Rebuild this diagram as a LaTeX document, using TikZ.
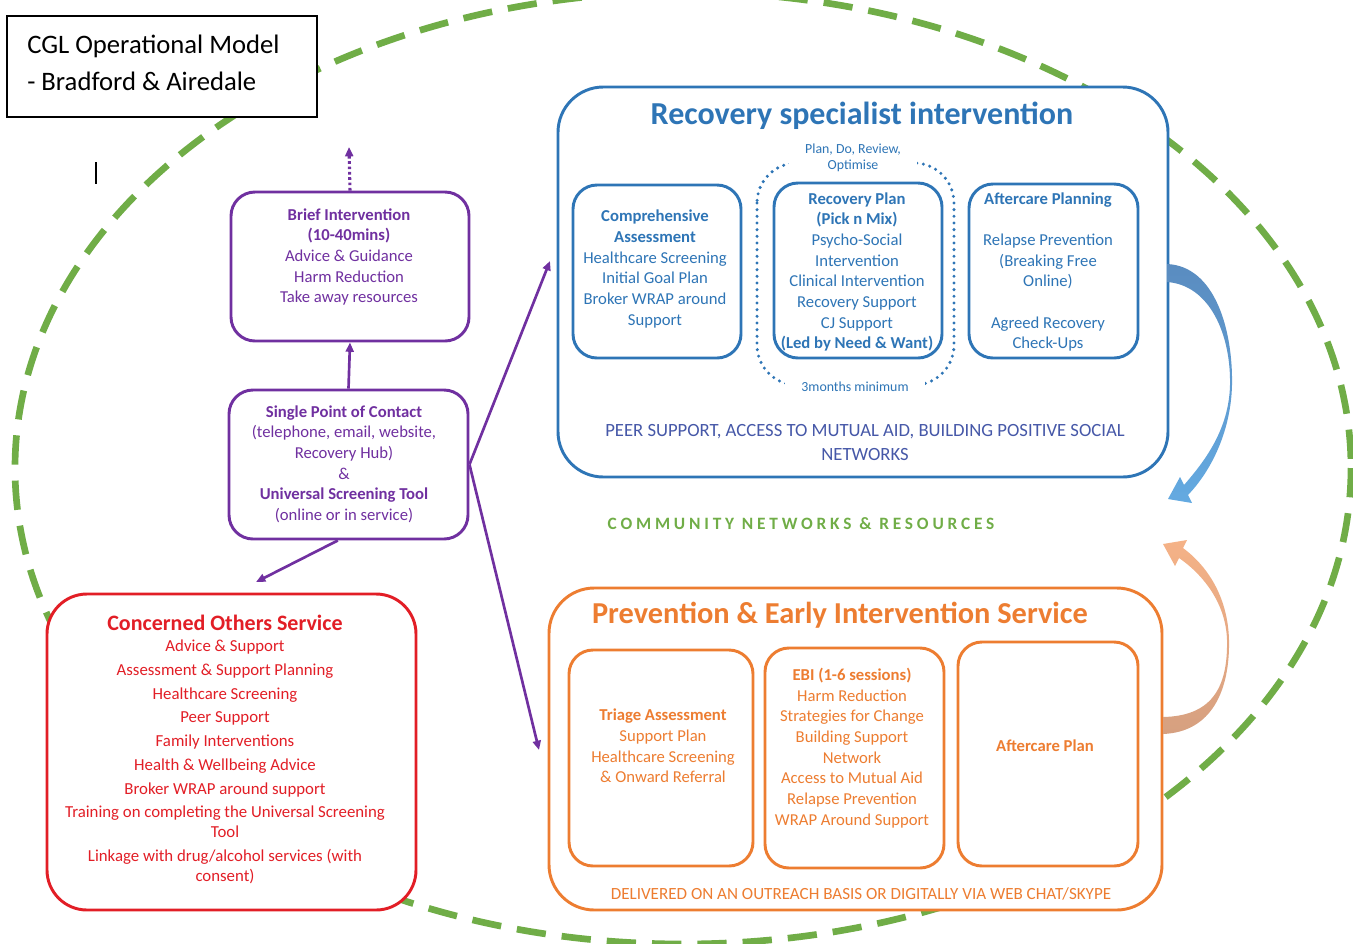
\documentclass[tikz,border=0pt]{standalone}
\usepackage{fontspec}
\setmainfont{Carlito}
\usetikzlibrary{arrows.meta,fit}

\definecolor{cglgreen}{RGB}{112,173,71}
\definecolor{cglpurple}{RGB}{112,48,160}
\definecolor{cglred}{RGB}{226,30,38}
\definecolor{cglblue}{RGB}{46,117,182}
\definecolor{cglpeer}{RGB}{70,88,168}
\definecolor{cglorange}{RGB}{237,125,49}

\tikzset{
  box/.style={draw, line width=2.2pt, rounded corners=18pt, fill=white, inner sep=0pt},
  txt/.style={align=center, inner sep=0.75pt, font=\fontsize{12.5}{15.5}\selectfont},
  parrow/.style={draw=cglpurple, line width=2pt, -{Triangle[length=7pt,width=6pt]}},
}

\begin{document}
\begin{tikzpicture}[x=0.75pt,y=0.75pt,yscale=-1,xscale=1]
\useasboundingbox (0,0) rectangle (1353,943);

% community circle
\draw [cglgreen, line width=5pt, dash pattern=on 22pt off 12pt] (683,468) ellipse [x radius=668, y radius=476];

% title
\node [draw=black, line width=1.1pt, fill=white, inner sep=0pt, fit={(7,16) (317,117)}] (title) {};
\node [txt, anchor=west, align=left, font=\fontsize{20}{27.75}\selectfont] (titletxt) at (26,63) {CGL Operational Model\\- Bradford \& Airedale};
\draw [line width=0.8pt] (96,162) -- (96,184);

% brief intervention
\node [box, draw=cglpurple, fit={(231,192) (469,341)}] (brief) {};
\node [txt, text=cglpurple] (brieftxt) at (349,257) {\textbf{Brief Intervention}\\\textbf{(10-40mins)}\\Advice \& Guidance\\Harm Reduction\\Take away resources};
\coordinate (briefup) at (349,147);

% single point of contact
\node [box, draw=cglpurple, fit={(229,390) (468,539)}] (spc) {};
\node [txt, text=cglpurple] (spctxt) at (344,464) {\textbf{Single Point of Contact}\\(telephone, email, website,\\Recovery Hub)\\\&\\\textbf{Universal Screening Tool}\\(online or in service)};

% concerned others
\node [box, draw=cglred, rounded corners=30pt, fit={(47,594) (416,910)}] (conc) {};
\node [txt, text=cglred, font=\fontsize{16.5}{18}\bfseries] (conctitle) at (225,623) {Concerned Others Service};
\node [txt, text=cglred, font=\fontsize{12.6}{15}\selectfont] (conctxt) at (225,762) {Advice \& Support\\[2.8pt]Assessment \& Support Planning\\[2.8pt]Healthcare Screening\\[2.8pt]Peer Support\\[2.8pt]Family Interventions\\[2.8pt]Health \& Wellbeing Advice\\[2.8pt]Broker WRAP around support\\[2.8pt]Training on completing the Universal Screening\\Tool\\[2.8pt]Linkage with drug/alcohol services (with\\consent)};

% recovery specialist intervention
\node [box, draw=cglblue, rounded corners=34pt, fit={(558,87) (1168,477)}] (rec) {};
\node [txt, text=cglblue, font=\fontsize{24}{28}\bfseries] (rectitle) at (862,116) {Recovery specialist intervention};
\node [box, draw=cglblue, fit={(573,185) (741,358)}] (comp) {};
\node [txt, text=cglblue] (comptxt) at (655,269) {\textbf{Comprehensive}\\\textbf{Assessment}\\Healthcare Screening\\Initial Goal Plan\\Broker WRAP around\\Support};
\draw [cglblue, line width=2.5pt, line cap=round, dash pattern=on 0pt off 5pt, rounded corners=30pt] (757,163) rectangle (954,385);
\node [box, draw=cglblue, fit={(774,183) (942,358)}] (rplan) {};
\node [txt, text=cglblue] (rplantxt) at (857,272) {\textbf{Recovery Plan}\\\textbf{(Pick n Mix)}\\Psycho-Social\\Intervention\\Clinical Intervention\\Recovery Support\\CJ Support\\\textbf{(Led by Need \& Want)}};
\node [txt, text=cglblue, fill=white, inner xsep=12pt, font=\fontsize{10.4}{12}\selectfont] (pdro) at (853,158) {Plan, Do, Review,\\Optimise};
\node [txt, text=cglblue, fill=white, inner xsep=12pt, font=\fontsize{10.4}{12}\selectfont] (months) at (855,387) {3months minimum};
\node [box, draw=cglblue, fit={(969,184) (1138,358)}] (aftp) {};
\node [txt, text=cglblue] (aftptxt) at (1048,272) {\textbf{Aftercare Planning}\\[15.5pt]Relapse Prevention\\(Breaking Free\\Online)\\[15.5pt]Agreed Recovery\\Check-Ups};
\node [txt, text=cglpeer, font=\fontsize{14}{18}\selectfont] (peer) at (865,442) {PEER SUPPORT, ACCESS TO MUTUAL AID, BUILDING POSITIVE SOCIAL\\NETWORKS};

% community networks
\node [txt, text=cglgreen, font=\fontsize{13}{15}\bfseries\addfontfeature{LetterSpace=22}] (commnet) at (801,524) {COMMUNITY NETWORKS \& RESOURCES};

% prevention & early intervention
\node [box, draw=cglorange, rounded corners=34pt, fit={(549,588) (1162,910)}] (prev) {};
\node [txt, text=cglorange, font=\fontsize{22.8}{26}\bfseries] (prevtitle) at (840,615) {Prevention \& Early Intervention Service};
\node [box, draw=cglorange, fit={(569,650) (753,866)}] (triage) {};
\node [txt, text=cglorange] (triagetxt) at (663,746) {\textbf{Triage Assessment}\\Support Plan\\Healthcare Screening\\\& Onward Referral};
\node [box, draw=cglorange, fit={(765,648) (944,868)}] (ebi) {};
\node [txt, text=cglorange] (ebitxt) at (852,748) {\textbf{EBI (1-6 sessions)}\\Harm Reduction\\Strategies for Change\\Building Support\\Network\\Access to Mutual Aid\\Relapse Prevention\\WRAP Around Support};
\node [box, draw=cglorange, fit={(958,642) (1138,866)}] (aftc) {};
\node [txt, text=cglorange] (aftctxt) at (1045,746) {\textbf{Aftercare Plan}};
\node [txt, text=cglorange, font=\fontsize{12.8}{14}\selectfont] (deliv) at (861,894) {DELIVERED ON AN OUTREACH BASIS OR DIGITALLY VIA WEB CHAT/SKYPE};

% curved arrows between the services
\draw [draw=none, top color={rgb,255:red,90;green,140;blue,192}, middle color={rgb,255:red,205;green,226;blue,244}, bottom color={rgb,255:red,100;green,170;blue,225}]
  (1167,264) .. controls (1215,266) and (1233,330) .. (1232,385) .. controls (1231,430) and (1212,470) .. (1188,495) -- (1192,503) -- (1168,499) -- (1180,477) -- (1184,485) .. controls (1204,462) and (1229,430) .. (1230,385) .. controls (1231,335) and (1210,285) .. (1167,282) -- cycle;
\draw [draw=none, top color={rgb,255:red,245;green,178;blue,135}, middle color={rgb,255:red,250;green,222;blue,204}, bottom color={rgb,255:red,214;green,160;blue,128}]
  (1163,734) .. controls (1212,732) and (1230,690) .. (1229,640) .. controls (1228,600) and (1210,568) .. (1183,548) -- (1187,540) -- (1163,544) -- (1175,566) -- (1179,558) .. controls (1205,576) and (1226,605) .. (1227,640) .. controls (1228,690) and (1210,716) .. (1163,717) -- cycle;

% referral arrows
\coordinate (recin) at (550,261);
\coordinate (previn) at (539,750);
\coordinate (concin) at (256,582);
\draw [parrow, dotted, line width=2.3pt] (brief.north) -- (briefup);
\draw [parrow] (spc.north) -- (brief.south);
\draw [parrow] (spc.east) -- (recin);
\draw [parrow] (spc.east) -- (previn);
\draw [parrow] ([xshift=-8pt]spc.south) -- (concin);

\end{tikzpicture}
\end{document}
